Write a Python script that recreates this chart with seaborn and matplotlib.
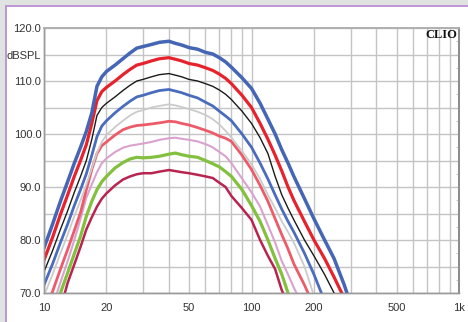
import numpy as np
import pandas as pd
import matplotlib
matplotlib.use("Agg")
import matplotlib.pyplot as plt
import seaborn as sns
from matplotlib.patches import Rectangle
from matplotlib.ticker import FixedLocator, NullFormatter

freq = [10, 11, 12, 13, 14, 15, 16, 17, 18, 19, 20, 22, 24, 26, 28, 30, 33, 36, 40, 43,
        46, 50, 55, 60, 65, 70, 75, 80, 90, 100, 110, 120, 130, 140, 150, 160, 180, 200,
        225, 250, 280, 300]

spl_1 = [78.5, 83.0, 87.3, 91.0, 94.5, 97.5, 100.5, 104.0, 109.0, 110.8, 111.8, 113.0, 114.2, 115.3, 116.2, 116.5, 116.9, 117.3, 117.5, 117.1,
         116.8, 116.3, 116.0, 115.4, 115.1, 114.4, 113.6, 112.6, 110.6, 108.6, 105.8, 102.8, 100.0, 97.0, 94.5, 92.0, 87.8, 84.0,
         80.0, 76.5, 71.5, 68.0]
spl_2 = [76.2, 80.5, 84.8, 88.5, 92.0, 95.0, 98.0, 102.0, 106.3, 108.0, 108.8, 110.0, 111.2, 112.2, 113.0, 113.3, 113.8, 114.2, 114.4, 114.1,
         113.8, 113.3, 113.0, 112.5, 112.0, 111.3, 110.5, 109.5, 107.3, 105.0, 102.0, 99.0, 96.0, 93.0, 90.0, 87.5, 83.5, 80.0,
         76.5, 73.0, 69.0, 66.0]
spl_3 = [74.0, 78.0, 82.0, 85.5, 89.0, 92.0, 95.0, 99.0, 103.5, 105.0, 105.8, 107.0, 108.2, 109.2, 110.0, 110.3, 110.8, 111.2, 111.4, 111.1,
         110.8, 110.3, 110.0, 109.5, 109.0, 108.3, 107.5, 106.5, 104.3, 102.0, 99.3, 96.3, 92.0, 88.5, 86.0, 83.8, 80.0, 77.0,
         73.5, 70.0, 65.0, 62.0]
spl_4 = [71.5, 75.5, 79.5, 83.0, 86.5, 89.5, 92.5, 96.0, 99.5, 101.5, 102.5, 104.0, 105.2, 106.2, 107.0, 107.3, 107.8, 108.2, 108.4, 108.1,
         107.8, 107.3, 106.8, 106.0, 105.3, 104.3, 103.4, 102.5, 100.0, 97.5, 94.5, 91.5, 88.5, 85.8, 83.5, 81.5, 77.5, 73.5,
         68.5, 64.0, 59.0, 56.0]
spl_5 = [69.5, 73.5, 77.5, 81.0, 84.5, 87.5, 90.5, 93.5, 96.5, 98.5, 99.8, 101.3, 102.5, 103.5, 104.2, 104.5, 105.0, 105.3, 105.6, 105.4,
         105.1, 104.7, 104.2, 103.6, 102.8, 101.8, 100.6, 99.3, 96.8, 94.3, 91.5, 88.5, 86.0, 83.5, 81.5, 79.5, 75.0, 69.5,
         65.0, 61.0, 56.0, 53.0]
spl_6 = [66.0, 70.3, 74.5, 78.2, 81.8, 85.2, 89.5, 93.3, 96.3, 97.8, 98.5, 99.8, 100.8, 101.3, 101.6, 101.7, 101.9, 102.1, 102.4, 102.3,
         102.0, 101.7, 101.2, 100.7, 100.2, 99.6, 99.2, 98.6, 96.0, 93.3, 90.3, 87.3, 84.0, 81.0, 78.3, 75.5, 71.5, 67.5,
         63.0, 59.0, 54.0, 51.0]
spl_7 = [62.0, 67.5, 72.0, 76.0, 80.0, 84.0, 88.0, 90.5, 92.8, 94.5, 95.4, 96.6, 97.4, 97.8, 98.0, 98.2, 98.5, 98.9, 99.2, 99.3,
         99.1, 98.9, 98.6, 98.1, 97.5, 96.6, 95.8, 94.5, 91.6, 89.0, 86.3, 82.8, 79.5, 76.0, 73.5, 71.0, 67.0, 63.0,
         58.0, 54.0, 49.0, 46.0]
spl_8 = [59.0, 64.5, 70.0, 73.8, 77.4, 80.7, 84.5, 87.3, 89.5, 91.0, 92.0, 93.6, 94.6, 95.3, 95.6, 95.5, 95.6, 95.8, 96.2, 96.4,
         96.1, 95.8, 95.6, 95.0, 94.4, 93.8, 92.9, 92.0, 89.5, 86.5, 83.5, 80.0, 76.5, 73.5, 70.0, 67.5, 63.0, 59.0,
         54.0, 50.0, 45.0, 42.0]
spl_9 = [57.0, 62.0, 67.0, 71.9, 75.4, 78.7, 82.0, 84.3, 86.3, 87.8, 88.8, 90.3, 91.4, 92.0, 92.4, 92.6, 92.6, 92.9, 93.2, 93.0,
         92.8, 92.6, 92.3, 92.0, 91.7, 90.8, 90.0, 88.3, 86.0, 83.8, 80.0, 77.0, 74.5, 70.5, 68.0, 65.5, 61.0, 57.0,
         52.0, 48.0, 43.0, 40.0]

series = [spl_1, spl_2, spl_3, spl_4, spl_5, spl_6, spl_7, spl_8, spl_9]
colors = ["#4565b5", "#e6232d", "#1a1a1a", "#4a6cbd", "#cbcbcb", "#ec5b69", "#d9a2cf", "#82c03e", "#b82450"]
widths = [2.5, 2.3, 1.0, 2.0, 1.3, 2.0, 1.5, 2.3, 1.8]

xticks = [10, 20, 50, 100, 200, 500, 1000]
xticklabels = ["10", "20", "50", "100", "200", "500", "1k"]
yticks = [70, 80, 90, 100, 110, 115, 120]
yticklabels = ["70.0", "80.0", "90.0", "100.0", "110.0", "dBSPL", "120.0"]

sns.set_theme(style="white")
plt.rcParams["font.family"] = ["Liberation Sans", "DejaVu Sans"]

fig = plt.figure(figsize=(4.68, 3.22), dpi=100)
fig.patch.set_facecolor("#dfe4e0")
panel = Rectangle((6 / 468, -0.05), 1.0, 1 - 6 / 322 + 0.05, transform=fig.transFigure,
                  facecolor="white", edgecolor="#b98fcf", linewidth=1.3, zorder=-10)
fig.patches.append(panel)

ax = fig.add_axes([44 / 468, 1 - 293 / 322, (459 - 44) / 468, (293 - 28) / 322])
ax.set_facecolor("white")

df = pd.DataFrame({"freq": freq})
for i, s in enumerate(series):
    df[f"s{i}"] = s
long = df.melt(id_vars="freq", var_name="curve", value_name="spl")

for i in range(len(series)):
    sub = long[long["curve"] == f"s{i}"]
    sns.lineplot(data=sub, x="freq", y="spl", ax=ax, color=colors[i], linewidth=widths[i],
                 legend=False, zorder=3 + (len(series) - i) * 0.01, solid_capstyle="round")

ax.set_xscale("log")
ax.set_xlim(10, 1000)
ax.set_ylim(70, 120)

grid_x = [10, 20, 30, 40, 50, 60, 70, 80, 90, 100, 200, 300, 400, 500, 600, 700, 800, 900, 1000]
for gx in grid_x:
    ax.axvline(gx, color="#c4c4c4", linewidth=1.0, zorder=1)
for gy in range(70, 121, 5):
    ax.axhline(gy, color="#c4c4c4", linewidth=1.0, zorder=1)

ax.xaxis.set_major_locator(FixedLocator(xticks))
ax.set_xticks(xticks)
ax.set_xticklabels(xticklabels)
ax.xaxis.set_minor_formatter(NullFormatter())
ax.set_yticks(yticks)
ax.set_yticklabels(yticklabels)
ax.tick_params(axis="x", which="both", length=0, pad=7, labelsize=8, labelcolor="#333333")
ax.tick_params(axis="y", which="both", length=0, pad=2, labelsize=8, labelcolor="#333333")
ax.set_xlabel("")
ax.set_ylabel("")

# small ticks on the right edge
ax2 = ax.twinx()
ax2.set_ylim(70, 120)
ax2.set_yticks(np.arange(70, 121, 2.5))
ax2.tick_params(axis="y", direction="in", length=2, width=0.6, color="#bbbbbb", labelright=False)
ax2.grid(False)

for a in (ax, ax2):
    for side in ["left", "bottom"]:
        a.spines[side].set_color("#9a9a9a")
        a.spines[side].set_linewidth(1.0)
    a.spines["top"].set_color("#b0b0b0")
    a.spines["right"].set_color("#8a8a8a")
    a.spines["right"].set_linewidth(1.2)

ax.text(0.996, 0.995, "CLIO", transform=ax.transAxes, ha="right", va="top",
        fontsize=9, fontweight="bold", family=["Liberation Serif", "DejaVu Serif"],
        color="#111111", zorder=10)

fig.savefig("out.png", dpi=100, facecolor=fig.get_facecolor())
